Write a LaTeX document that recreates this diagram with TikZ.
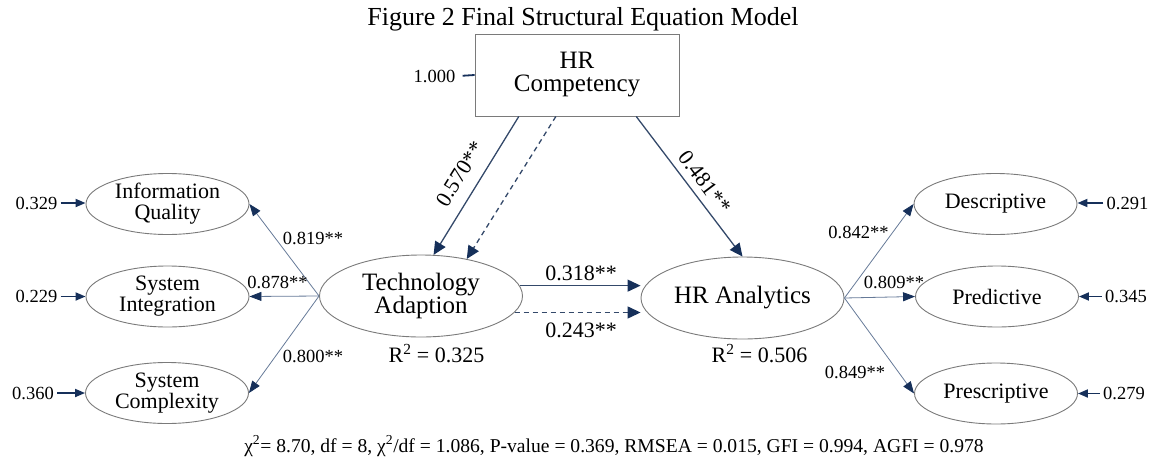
\documentclass[tikz,border=0pt]{standalone}
\usepackage{fontspec}
\setmainfont{Liberation Serif}
\usetikzlibrary{shapes.geometric,arrows.meta,calc}
\definecolor{navy}{HTML}{16305A}
\definecolor{linec}{HTML}{34496A}
\definecolor{mline}{HTML}{667A98}
\definecolor{egray}{HTML}{7A7A7A}
\begin{document}
\begin{tikzpicture}[x=1pt,y=-1pt,
  construct/.style={ellipse, draw=egray, line width=0.9pt, minimum width=203pt, minimum height=82pt, inner sep=0pt, align=center, font=\fontsize{25}{23}\selectfont},
  indic/.style={ellipse, draw=egray, line width=0.9pt, minimum width=163pt, minimum height=61pt, inner sep=0pt, align=center, font=\fontsize{22}{21}\selectfont},
  hrbox/.style={rectangle, draw=egray, line width=0.9pt, minimum width=204pt, minimum height=82pt, inner sep=0pt, align=center, font=\fontsize{25}{23}\selectfont},
  sarrow/.style={draw=linec, line width=1.3pt, -{Triangle[length=13pt,width=12pt,color=navy]}},
  darrow/.style={sarrow, dash pattern=on 5pt off 4pt},
  marrow/.style={draw=mline, line width=0.8pt, -{Triangle[length=12pt,width=9pt,color=navy]}},
  rarrow/.style={draw=navy, line width=1.8pt, -{Triangle[length=10pt,width=8pt]}},
  coef/.style={font=\fontsize{22}{22}\selectfont, inner sep=0pt},
  lcoef/.style={font=\fontsize{18.5}{18.5}\selectfont, inner sep=0pt},
  res/.style={font=\fontsize{18.5}{18.5}\selectfont, inner sep=3pt}
]
\useasboundingbox (0,0) rectangle (1153,461);

% title
\node[anchor=base, inner sep=0pt, font=\fontsize{26}{26}\selectfont] (title) at (583,25) {Figure 2 Final Structural Equation Model};

% main nodes
\node[hrbox] (HRC) at (577,75) {HR\\Competency};
\node[construct] (TA) at (421,296) {Technology\\Adaption};
\node[construct] (HRA) at (742.5,298) {HR Analytics};

\node[indic] (IQ) at (167.5,204) {Information\\Quality};
\node[indic] (SI) at (167.5,296.5) {System\\Integration};
\node[indic] (SC) at (167,393) {System\\Complexity};
\node[indic] (DE) at (995.5,204) {Descriptive};
\node[indic] (PR) at (997,296.5) {Predictive};
\node[indic] (PS) at (996,393.5) {Prescriptive};

% residual labels
\node[res, anchor=east] (e0) at ($(HRC.west)+(-16,1)$) {1.000};
\node[res, anchor=east] (e1) at ($(IQ.west)+(-25,-1)$) {0.329};
\node[res, anchor=east] (e2) at ($(SI.west)+(-25,0)$) {0.229};
\node[res, anchor=east] (e3) at ($(SC.west)+(-28,0)$) {0.360};
\node[res, anchor=west] (e4) at ($(DE.east)+(26,-1)$) {0.291};
\node[res, anchor=west] (e5) at ($(PR.east)+(23,0)$) {0.345};
\node[res, anchor=west] (e6) at ($(PS.east)+(22,0)$) {0.279};

\draw[navy, line width=1.8pt, shorten <=4pt] (e0.east) -- (HRC.west);
\draw[rarrow] (e1.east) -- (e1.east -| IQ.west);
\draw[rarrow] (e2.east) -- (SI.west);
\draw[rarrow] (e3.east) -- (SC.west);
\draw[rarrow] (e4.west) -- (e4.west -| DE.east);
\draw[rarrow] (e5.west) -- (PR.east);
\draw[rarrow] (e6.west) -- (PS.east);

% structural paths
\coordinate (h1) at ($(HRC.south west)!0.216!(HRC.south east)$);
\coordinate (h2) at ($(HRC.south west)!0.397!(HRC.south east)$);
\coordinate (h3) at ($(HRC.south west)!0.789!(HRC.south east)$);
\draw[sarrow] (h1) -- (TA.73);
\draw[darrow] (h2) -- (TA.39);
\draw[sarrow] (h3) -- (HRA.north);
\draw[sarrow] (TA.6) -- (TA.6 -| HRA.west);
\draw[darrow] (TA.-10) -- (TA.-10 -| HRA.west);

% measurement paths
\draw[marrow] (TA.west) -- (IQ.east);
\draw[marrow] (TA.west) -- (SI.east);
\draw[marrow] (TA.west) -- (SC.east);
\draw[marrow] (HRA.east) -- (DE.west);
\draw[marrow] (HRA.east) -- (PR.west);
\draw[marrow] (HRA.east) -- (PS.west);

% coefficients
\node[coef, rotate=58] (c1) at (460,174) {0.570**};
\node[coef, rotate=-53] (c2) at (705,182) {0.481**};
\node[coef, anchor=base] (c3) at (581,280) {0.318**};
\node[coef, anchor=base] (c4) at (581,337) {0.243**};
\node[coef, anchor=base] (r1) at (436.5,362) {R\textsuperscript{2} = 0.325};
\node[coef, anchor=base] (r2) at (759.5,362) {R\textsuperscript{2} = 0.506};

\node[lcoef, anchor=base] (l1) at (313,244) {0.819**};
\node[lcoef, anchor=base] (l2) at (277.5,288) {0.878**};
\node[lcoef, anchor=base] (l3) at (313,362) {0.800**};
\node[lcoef, anchor=base] (l4) at (858.5,238) {0.842**};
\node[lcoef, anchor=base] (l5) at (894,288) {0.809**};
\node[lcoef, anchor=base] (l6) at (855,378) {0.849**};

% fit statistics
\node[anchor=base, inner sep=0pt, font=\fontsize{19.6}{19.6}\selectfont] (fit) at (614,452) {χ\textsuperscript{2}= 8.70, df = 8, χ\textsuperscript{2}/df = 1.086, P-value = 0.369, RMSEA = 0.015, GFI = 0.994, AGFI = 0.978};
\end{tikzpicture}
\end{document}
